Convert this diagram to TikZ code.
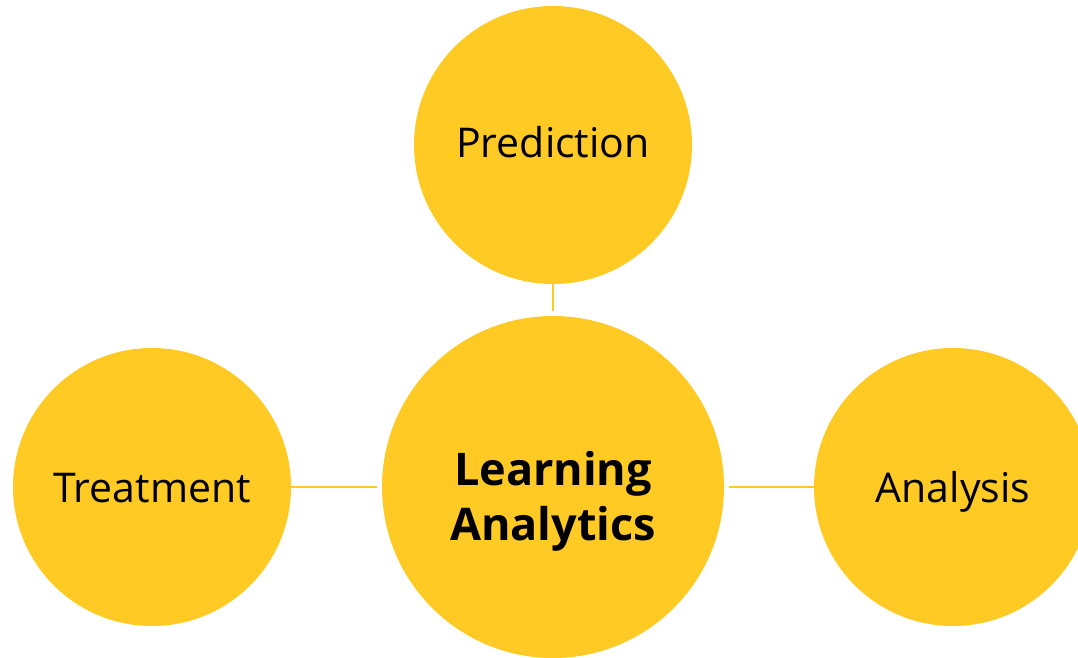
\documentclass[tikz,border=0pt]{standalone}
\usepackage{fontspec}
\setmainfont{Open Sans}
\definecolor{gold}{RGB}{255,202,36}
\begin{document}
\begin{tikzpicture}[x=1pt,y=-1pt,
  ball/.style={circle,fill=gold,minimum size=278pt,inner sep=0pt,
    text height=30pt,text depth=0pt,font=\fontsize{41}{48}\selectfont},
  hub/.style={ball,minimum size=342pt,outer sep=5pt,align=center,
    text height=106pt,font=\fontsize{45}{55}\selectfont\bfseries},
  link/.style={draw=gold,line width=2pt}]
\useasboundingbox (0,0) rectangle (1078,657);
% the four circles
\node[hub] (la) at (553,487) {Learning\\Analytics};
\node[ball,text depth=6pt] (pred) at (553,145) {Prediction};
\node[ball] (treat) at (152,487) {Treatment};
\node[ball] (anal) at (953,487) {Analysis};
% links to the hub
\draw[link] (pred) -- (la);
\draw[link] (treat) -- (la);
\draw[link] (anal) -- (la);
\end{tikzpicture}
\end{document}
